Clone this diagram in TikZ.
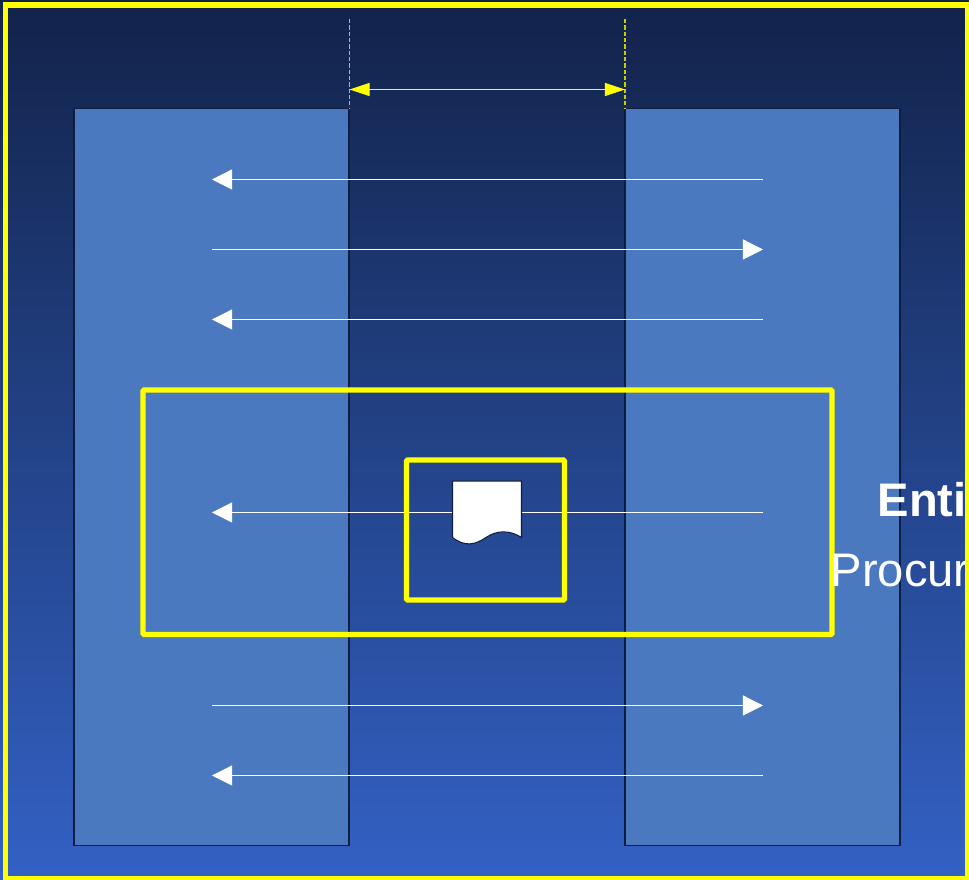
\documentclass[tikz,border=0pt]{standalone}
\usepackage{fontspec}
\setmainfont{Liberation Sans}
\usetikzlibrary{arrows.meta}
\definecolor{bgtop}{HTML}{12234A}
\definecolor{bgmid}{HTML}{234791}
\definecolor{bgbottom}{HTML}{3361C4}
\definecolor{lanefill}{HTML}{4A79C0}
\definecolor{laneline}{HTML}{0E1E40}
\definecolor{framey}{HTML}{FFFF00}
\tikzset{
    lane/.style={draw=laneline, line width=0.35pt, fill=lanefill, inner sep=0pt, minimum width=2.75cm, minimum height=7.36cm},
    msg/.style={draw=white, line width=0.3pt, -{Triangle[length=0.57pt*10, width=0.57pt*10, fill=white]}},
    span/.style={draw=framey, line width=0.3pt, {Triangle[length=0.57pt*10, width=3.7pt, fill=framey]}-{Triangle[length=0.57pt*10, width=3.7pt, fill=framey]}},
    guide/.style={draw=framey!80!black, line width=0.3pt, dash pattern=on 1.2pt off 0.6pt},
    yframe/.style={draw=framey, line width=1.5pt, rounded corners=0.3pt},
    caption/.style={text=white, anchor=base west, inner sep=0pt, font=\fontsize{13.4}{16}\selectfont}
}
\begin{document}
\begin{tikzpicture}[x=0.01cm, y=-0.01cm]
    \useasboundingbox (0,0) rectangle (969,880);
    \clip (0,0) rectangle (969,880);

    % 1. background
    \shade[top color=bgtop, middle color=bgmid, bottom color=bgbottom] (0,0) rectangle (969,880);

    % 2. two lanes
    \node[lane] (leftlane) at (211.5,477) {};
    \node[lane] (rightlane) at (762.5,477) {};

    % 3. span between the lanes
    \coordinate (guideLtop) at (349.5,19);
    \coordinate (guideLbot) at (349.5,108);
    \coordinate (guideRtop) at (625,19);
    \coordinate (guideRbot) at (625,108);
    \coordinate (spanL) at (349.5,89.5);
    \coordinate (spanR) at (625,89.5);
    \draw[guide] (guideLtop) -- (guideLbot);
    \draw[guide] (guideRtop) -- (guideRbot);
    \draw[span] (spanL) -- (spanR);

    % 4. messages
    \coordinate (a1) at (763,179.5);
    \coordinate (b1) at (212,179.5);
    \coordinate (a2) at (212,249.5);
    \coordinate (b2) at (763,249.5);
    \coordinate (a3) at (763,319.5);
    \coordinate (b3) at (212,319.5);
    \coordinate (a4) at (763,512.5);
    \coordinate (b4) at (212,512.5);
    \coordinate (a5) at (212,705.5);
    \coordinate (b5) at (763,705.5);
    \coordinate (a6) at (763,775.5);
    \coordinate (b6) at (212,775.5);
    \draw[msg] (a1) -- (b1);
    \draw[msg] (a2) -- (b2);
    \draw[msg] (a3) -- (b3);
    \draw[msg] (a4) -- (b4);
    \draw[msg] (a5) -- (b5);
    \draw[msg] (a6) -- (b6);

    % 5. document sheet
    \draw[fill=white, draw=laneline, line width=0.3pt] (452.5,481) -- (521.5,481) -- (521.5,537.5)
        .. controls (510,530) and (497,530) .. (486,537.5)
        .. controls (475,545) and (465,547) .. (452.5,537.5) -- cycle;

    % 6. yellow frames
    \draw[yframe] (143,390) rectangle (832,634.5);
    \draw[yframe] (406.5,460) rectangle (564.5,600);

    % 7. cut-off captions
    \node[caption, font=\fontsize{13.4}{16}\selectfont\bfseries] (entitext) at (877,517) {Enti};
    \node[caption] (procurtext) at (830,586.5) {Procur};

    % 8. outer frame
    \draw[draw=framey, line width=1.5pt] (5.5,5) rectangle (968,878.5);
\end{tikzpicture}
\end{document}
